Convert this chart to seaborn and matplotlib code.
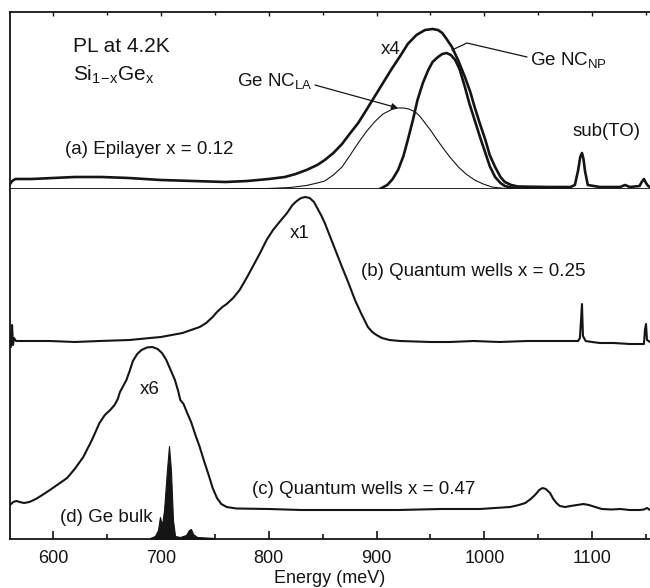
import matplotlib
matplotlib.use("Agg")
import matplotlib.pyplot as plt
import numpy as np
import pandas as pd
import seaborn as sns

# ---------------- data ----------------
# (a) Epilayer x = 0.12, measured spectrum (x4)
a_tot_E = [560, 562, 565, 580, 600, 620, 645, 670, 700, 730, 760, 780, 800, 815, 825,
           835, 845, 852, 860, 868, 875, 883, 890, 898, 906, 914, 922, 929, 937, 945,
           952, 957, 961, 965, 970, 976, 982, 987, 991, 996, 1001, 1005, 1010, 1015,
           1019, 1025, 1031, 1060, 1080, 1084, 1086.9, 1089, 1090.6, 1092, 1093.4, 1096,
           1107, 1126, 1130.5, 1135, 1144, 1146, 1148.1, 1150, 1152, 1153.7]
a_tot_I = [5, 8, 10, 10, 11, 12, 12, 11, 9, 8, 7, 8, 10, 12, 15,
           19, 24, 29, 36, 45, 55, 66, 78, 92, 106, 120, 133, 145, 154, 159,
           160, 159, 156, 150, 142, 128, 112, 97, 82, 65, 49, 34, 22, 12,
           7, 4, 2.5, 2, 2, 4, 18, 32, 36, 30, 18, 4,
           2, 2, 4, 2, 3, 7, 10, 6, 3, 2]
# Ge NC_NP component
a_np_E = [903, 910, 915, 920, 925, 929, 934, 938, 943, 948, 952, 957, 961, 965, 969,
          973, 977, 982, 986, 991, 996, 1001, 1005, 1010, 1015, 1019, 1025, 1031, 1080]
a_np_I = [0, 4, 10, 19, 33, 49, 70, 89, 106, 119, 127, 132, 135, 136, 134,
          129, 120, 102, 86, 69, 52, 36, 23, 12, 6, 3, 1.5, 1, 0.5]
# Ge NC_LA component
a_la_E = [764, 800, 820, 835, 845, 852, 860, 868, 875, 883, 891, 899, 906, 914, 920,
          925, 930, 936, 940, 945, 950, 955, 961, 968, 976, 983, 991, 999, 1007, 1019, 1060]
a_la_I = [0, 0.5, 1.5, 3.5, 6, 8, 14, 22, 33, 46, 58, 68, 75, 79.5, 81,
          81, 80, 77, 73, 66, 59, 51, 42, 32, 22, 15, 9, 5, 2, 0.5, 0]

# (b) Quantum wells x = 0.25 (x1), offset spectrum
b_E = [560, 560.9, 561.9, 562.8, 563.7, 565.6, 580, 597, 620, 643, 671, 690, 700, 710,
       720, 728, 736, 742, 748, 752, 757, 761, 767, 773, 780, 786, 792, 798, 804, 810,
       817, 822, 826, 830, 834, 838, 842, 846, 849, 852, 856, 860, 864, 868, 874, 880,
       886, 892, 896, 900, 905, 912, 922, 950, 968, 990, 1014, 1040, 1061, 1080, 1087,
       1088.7, 1090.6, 1091.5, 1094, 1100, 1107, 1120, 1135, 1148.1, 1149, 1150,
       1150.9, 1153.7]
b_I = [207, 192, 214, 194, 201, 198, 198, 198, 197, 198, 199, 201, 202, 204,
       206, 209, 212, 216, 222, 227, 232, 235, 241, 249, 262, 274, 286, 299, 309, 317,
       326, 334, 338, 341, 342, 341, 337, 329, 323, 316, 305, 294, 283, 272, 256, 239,
       225, 212, 207, 204, 201, 199, 198, 197, 197, 198, 197, 198, 198, 198, 198,
       201, 235, 203, 198, 197, 196, 196, 195, 195, 209, 215, 199, 197]

# (c) Quantum wells x = 0.47 (x6), offset spectrum
c_E = [560, 563, 566, 569, 573, 578, 584, 590, 597, 605, 613, 620, 628, 636, 643, 648,
       653, 657, 660, 662, 665, 668, 671, 674, 678, 682, 687, 692, 697, 701, 705, 709,
       713, 716, 718, 721, 724, 728, 732, 736, 740, 744, 748, 752, 756, 761, 770, 800,
       830, 880, 920, 960, 996, 1010, 1024, 1032, 1038, 1043, 1047, 1051, 1054, 1057,
       1061, 1064, 1067, 1070, 1075, 1080, 1086, 1092, 1097, 1103, 1109, 1118, 1126,
       1135, 1144, 1148, 1151, 1153.7]
c_I = [34, 37, 38, 37, 36, 37, 40, 44, 49, 55, 61, 70, 82, 99, 116, 124,
       129, 134, 140, 147, 153, 159, 168, 178, 185, 189, 191.5, 192, 190, 186, 179, 169,
       159, 148, 139, 135, 127, 117, 104, 92, 78, 65, 51, 41, 35, 32, 30.5, 30,
       29, 29, 29, 30, 30, 31, 32, 34, 36, 40, 44, 49, 51, 50,
       46, 40, 36, 33, 32, 33, 34, 35, 34, 32, 30, 29.5, 30,
       29, 29, 29.5, 31, 29]

# (d) Ge bulk
d_E = [689.9, 694.5, 697.3, 699.1, 701.0, 702.9, 705.6, 707.5, 709.3, 711.2, 713.1,
       717.7, 723.3, 726.0, 727.9, 729.8, 733.5, 750.2]
d_I = [1, 3, 9, 22, 14, 29, 69, 93, 69, 19, 3,
       2, 4, 9, 10, 5, 2, 1]

major_ticks = [600, 700, 800, 900, 1000, 1100]
minor_ticks = [650, 750, 850, 950, 1050, 1150]

# ---------------- style ----------------
sns.set_theme(style="ticks")
plt.rcParams["font.family"] = ["Liberation Sans", "DejaVu Sans"]
plt.rcParams["mathtext.fontset"] = "custom"
plt.rcParams["mathtext.rm"] = "Liberation Sans"
plt.rcParams["mathtext.it"] = "Liberation Sans"
plt.rcParams["mathtext.bf"] = "Liberation Sans:bold"

INK = "#151515"
W, H = 650, 588
fig = plt.figure(figsize=(W / 100, H / 100), dpi=100)
fig.patch.set_facecolor("white")

left = 10 / W
width = 640 / W
ax_top = fig.add_axes([left, 1 - 189 / H, width, (189 - 12) / H])
ax_bot = fig.add_axes([left, 1 - 539 / H, width, (539 - 189) / H])

XL = (560, 1153.7)

def draw(ax, E, I, lw):
    df = pd.DataFrame({"E": E, "I": I})
    sns.lineplot(data=df, x="E", y="I", ax=ax, color=INK, lw=lw,
                 sort=False, estimator=None)

draw(ax_top, a_la_E, a_la_I, 0.8)
draw(ax_top, a_np_E, a_np_I, 1.9)
draw(ax_top, a_tot_E, a_tot_I, 1.9)
draw(ax_bot, b_E, b_I, 1.5)
draw(ax_bot, c_E, c_I, 1.5)
ax_bot.fill_between(d_E, d_I, 0, color=INK, lw=0.8, edgecolor=INK)

for ax, yl in ((ax_top, (0, 177)), (ax_bot, (0, 350))):
    ax.set_xlim(*XL)
    ax.set_ylim(*yl)
    ax.set_yticks([])
    ax.set_ylabel("")
    ax.set_xlabel("")
    ax.set_facecolor("white")
    for s in ax.spines.values():
        s.set_linewidth(1.3)
        s.set_color(INK)
    ax.spines["right"].set_visible(False)

ax_top.spines["top"].set_visible(True)
ax_bot.spines["top"].set_visible(False)

ax_top.set_xticks(major_ticks)
ax_top.set_xticks(minor_ticks, minor=True)
ax_top.tick_params(axis="x", which="both", direction="in", top=True, bottom=False,
                   labelbottom=False, labeltop=False, color=INK, width=1.0)
ax_top.tick_params(axis="x", which="major", length=3)
ax_top.tick_params(axis="x", which="minor", length=2)

ax_bot.set_xticks(major_ticks)
ax_bot.set_xticks(minor_ticks, minor=True)
ax_bot.tick_params(axis="x", which="both", direction="in", bottom=True, top=False,
                   color=INK, width=1.2, labelsize=13, pad=8, labelcolor=INK)
ax_bot.tick_params(axis="x", which="major", length=6)
ax_bot.tick_params(axis="x", which="minor", length=3.5)
ax_bot.set_xlabel("Energy (meV)", fontsize=13, color=INK, labelpad=2)

fs = 13.5
# top panel texts
ax_top.text(618.4, 142, "PL at 4.2K", fontsize=fs + 1.5, color=INK, va="center", ha="left")
ax_top.text(618.4, 114, r"Si$_{\mathregular{1\!-\!x}}$Ge$_{\mathregular{x}}$",
            fontsize=fs + 1.5, color=INK, va="center", ha="left")
ax_top.text(904, 139, "x4", fontsize=fs, color=INK, va="center", ha="left")
ax_top.text(770.6, 108, r"Ge NC$_{\mathregular{LA}}$", fontsize=fs, color=INK, va="center", ha="left")
ax_top.text(1042.4, 129, r"Ge NC$_{\mathregular{NP}}$", fontsize=fs, color=INK, va="center", ha="left")
ax_top.text(611, 40, "(a) Epilayer x = 0.12", fontsize=fs, color=INK, va="center", ha="left")
ax_top.text(1082.2, 58, "sub(TO)", fontsize=fs, color=INK, va="center", ha="left")

ax_top.annotate("", xy=(919.9, 81), xytext=(842.9, 104),
                arrowprops=dict(arrowstyle="-|>", color=INK, lw=0.9,
                                mutation_scale=9, shrinkA=0, shrinkB=0))
ax_top.plot([1039.6, 983.9, 970.0], [132, 146, 139], color=INK, lw=0.9)

# bottom panel texts
ax_bot.text(819.7, 306, "x1", fontsize=fs, color=INK, va="center", ha="left")
ax_bot.text(885.6, 267, "(b) Quantum wells x = 0.25", fontsize=fs, color=INK, va="center", ha="left")
ax_bot.text(680.6, 149, "x6", fontsize=fs, color=INK, va="center", ha="left")
ax_bot.text(784.5, 50, "(c) Quantum wells x = 0.47", fontsize=fs, color=INK, va="center", ha="left")
ax_bot.text(606.4, 22, "(d) Ge bulk", fontsize=fs, color=INK, va="center", ha="left")

fig.savefig("out.png", dpi=100, facecolor="white")
